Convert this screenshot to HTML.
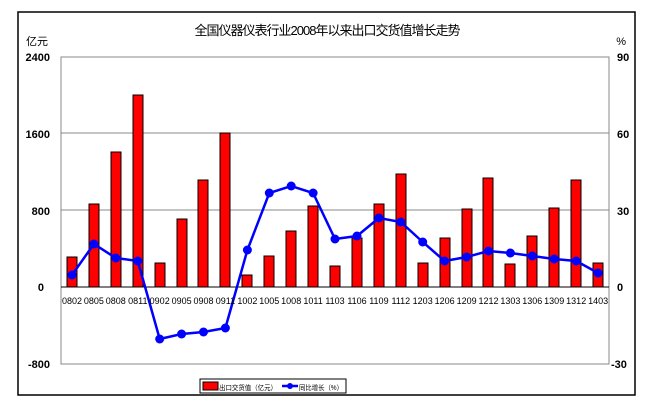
<!DOCTYPE html><html><head><meta charset="utf-8"><style>body{margin:0;background:#fff}svg{display:block}text{font-family:"Liberation Sans","Noto Sans CJK SC",sans-serif}</style></head><body>
<svg width="655" height="402" xmlns="http://www.w3.org/2000/svg">
<rect x="18" y="12" width="617" height="383" fill="#fff" stroke="#000" stroke-width="1.5"/>
<text x="327" y="35" font-size="13" text-anchor="middle" font-family="Noto Sans CJK SC,sans-serif" letter-spacing="-1">全国仪器仪表行业2008年以来出口交货值增长走势</text>
<text x="26" y="45" font-size="11" font-family="Noto Sans CJK SC,sans-serif">亿元</text>
<text x="626" y="45" font-size="11" text-anchor="end">%</text>
<g stroke="#888" stroke-width="1"><line x1="61" y1="133" x2="609" y2="133"/><line x1="61" y1="210" x2="609" y2="210"/></g>
<rect x="61" y="57" width="548" height="307" fill="none" stroke="#888"/>
<g font-size="11" font-weight="bold" text-anchor="end"><text x="50" y="61">2400</text><text x="50" y="138">1600</text><text x="50" y="215">800</text><text x="44" y="291">0</text><text x="50" y="368">-800</text></g>
<g font-size="11" font-weight="bold"><text x="617" y="61">90</text><text x="617" y="138">60</text><text x="617" y="215">30</text><text x="617" y="291">0</text><text x="611" y="368">-30</text></g>
<g fill="#f00" stroke="#000" stroke-width="1">
<rect x="67" y="257" width="10" height="30"/><rect x="89" y="204" width="10" height="83"/><rect x="111" y="152" width="10" height="135"/><rect x="133" y="95" width="10" height="192"/><rect x="155" y="263" width="10" height="24"/><rect x="177" y="219" width="10" height="68"/><rect x="198" y="180" width="10" height="107"/><rect x="220" y="133" width="10" height="154"/><rect x="242" y="275" width="10" height="12"/><rect x="264" y="256" width="10" height="31"/><rect x="286" y="231" width="10" height="56"/><rect x="308" y="206" width="10" height="81"/><rect x="330" y="266" width="10" height="21"/><rect x="352" y="238" width="10" height="49"/><rect x="374" y="204" width="10" height="83"/><rect x="396" y="174" width="10" height="113"/><rect x="418" y="263" width="10" height="24"/><rect x="440" y="238" width="10" height="49"/><rect x="462" y="209" width="10" height="78"/><rect x="483" y="178" width="10" height="109"/><rect x="505" y="264" width="10" height="23"/><rect x="527" y="236" width="10" height="51"/><rect x="549" y="208" width="10" height="79"/><rect x="571" y="180" width="10" height="107"/><rect x="593" y="263" width="10" height="24"/>
</g>
<line x1="61" y1="287" x2="609" y2="287" stroke="#000" stroke-width="1"/>
<polyline fill="none" stroke="#00f" stroke-width="2.5" points="72,275 93.9,244 115.8,258 137.8,261 159.7,339 181.6,334 203.5,332 225.4,328 247.4,250 269.3,193 291.2,186 313.1,193 335,239 357,236 378.9,218 400.8,222 422.7,242 444.6,261 466.6,257 488.5,251 510.4,253 532.3,256 554.2,259 576.2,261 598.1,273"/>
<g fill="#00f"><circle cx="72" cy="275" r="4.5"/><circle cx="93.9" cy="244" r="4.5"/><circle cx="115.8" cy="258" r="4.5"/><circle cx="137.8" cy="261" r="4.5"/><circle cx="159.7" cy="339" r="4.5"/><circle cx="181.6" cy="334" r="4.5"/><circle cx="203.5" cy="332" r="4.5"/><circle cx="225.4" cy="328" r="4.5"/><circle cx="247.4" cy="250" r="4.5"/><circle cx="269.3" cy="193" r="4.5"/><circle cx="291.2" cy="186" r="4.5"/><circle cx="313.1" cy="193" r="4.5"/><circle cx="335" cy="239" r="4.5"/><circle cx="357" cy="236" r="4.5"/><circle cx="378.9" cy="218" r="4.5"/><circle cx="400.8" cy="222" r="4.5"/><circle cx="422.7" cy="242" r="4.5"/><circle cx="444.6" cy="261" r="4.5"/><circle cx="466.6" cy="257" r="4.5"/><circle cx="488.5" cy="251" r="4.5"/><circle cx="510.4" cy="253" r="4.5"/><circle cx="532.3" cy="256" r="4.5"/><circle cx="554.2" cy="259" r="4.5"/><circle cx="576.2" cy="261" r="4.5"/><circle cx="598.1" cy="273" r="4.5"/></g>
<g font-size="9" text-anchor="middle" font-family="Liberation Serif,serif"><text x="72" y="304">0802</text><text x="93.9" y="304">0805</text><text x="115.8" y="304">0808</text><text x="137.8" y="304">0811</text><text x="159.7" y="304">0902</text><text x="181.6" y="304">0905</text><text x="203.5" y="304">0908</text><text x="225.4" y="304">0911</text><text x="247.4" y="304">1002</text><text x="269.3" y="304">1005</text><text x="291.2" y="304">1008</text><text x="313.1" y="304">1011</text><text x="335" y="304">1103</text><text x="357" y="304">1106</text><text x="378.9" y="304">1109</text><text x="400.8" y="304">1112</text><text x="422.7" y="304">1203</text><text x="444.6" y="304">1206</text><text x="466.6" y="304">1209</text><text x="488.5" y="304">1212</text><text x="510.4" y="304">1303</text><text x="532.3" y="304">1306</text><text x="554.2" y="304">1309</text><text x="576.2" y="304">1312</text><text x="598.1" y="304">1403</text></g>
<rect x="200" y="379" width="146" height="14" fill="#fff" stroke="#000"/>
<rect x="203" y="382" width="15" height="8" fill="#f00" stroke="#000"/>
<text x="219" y="390" font-size="7" textLength="58" lengthAdjust="spacingAndGlyphs" font-family="Noto Sans CJK SC,sans-serif">出口交货值（亿元）</text>
<line x1="282" y1="386" x2="298" y2="386" stroke="#00f" stroke-width="2.5"/>
<circle cx="290" cy="386" r="3" fill="#00f"/>
<text x="299" y="390" font-size="7" textLength="44" lengthAdjust="spacingAndGlyphs" font-family="Noto Sans CJK SC,sans-serif">同比增长（%）</text>
</svg>
</body></html>
